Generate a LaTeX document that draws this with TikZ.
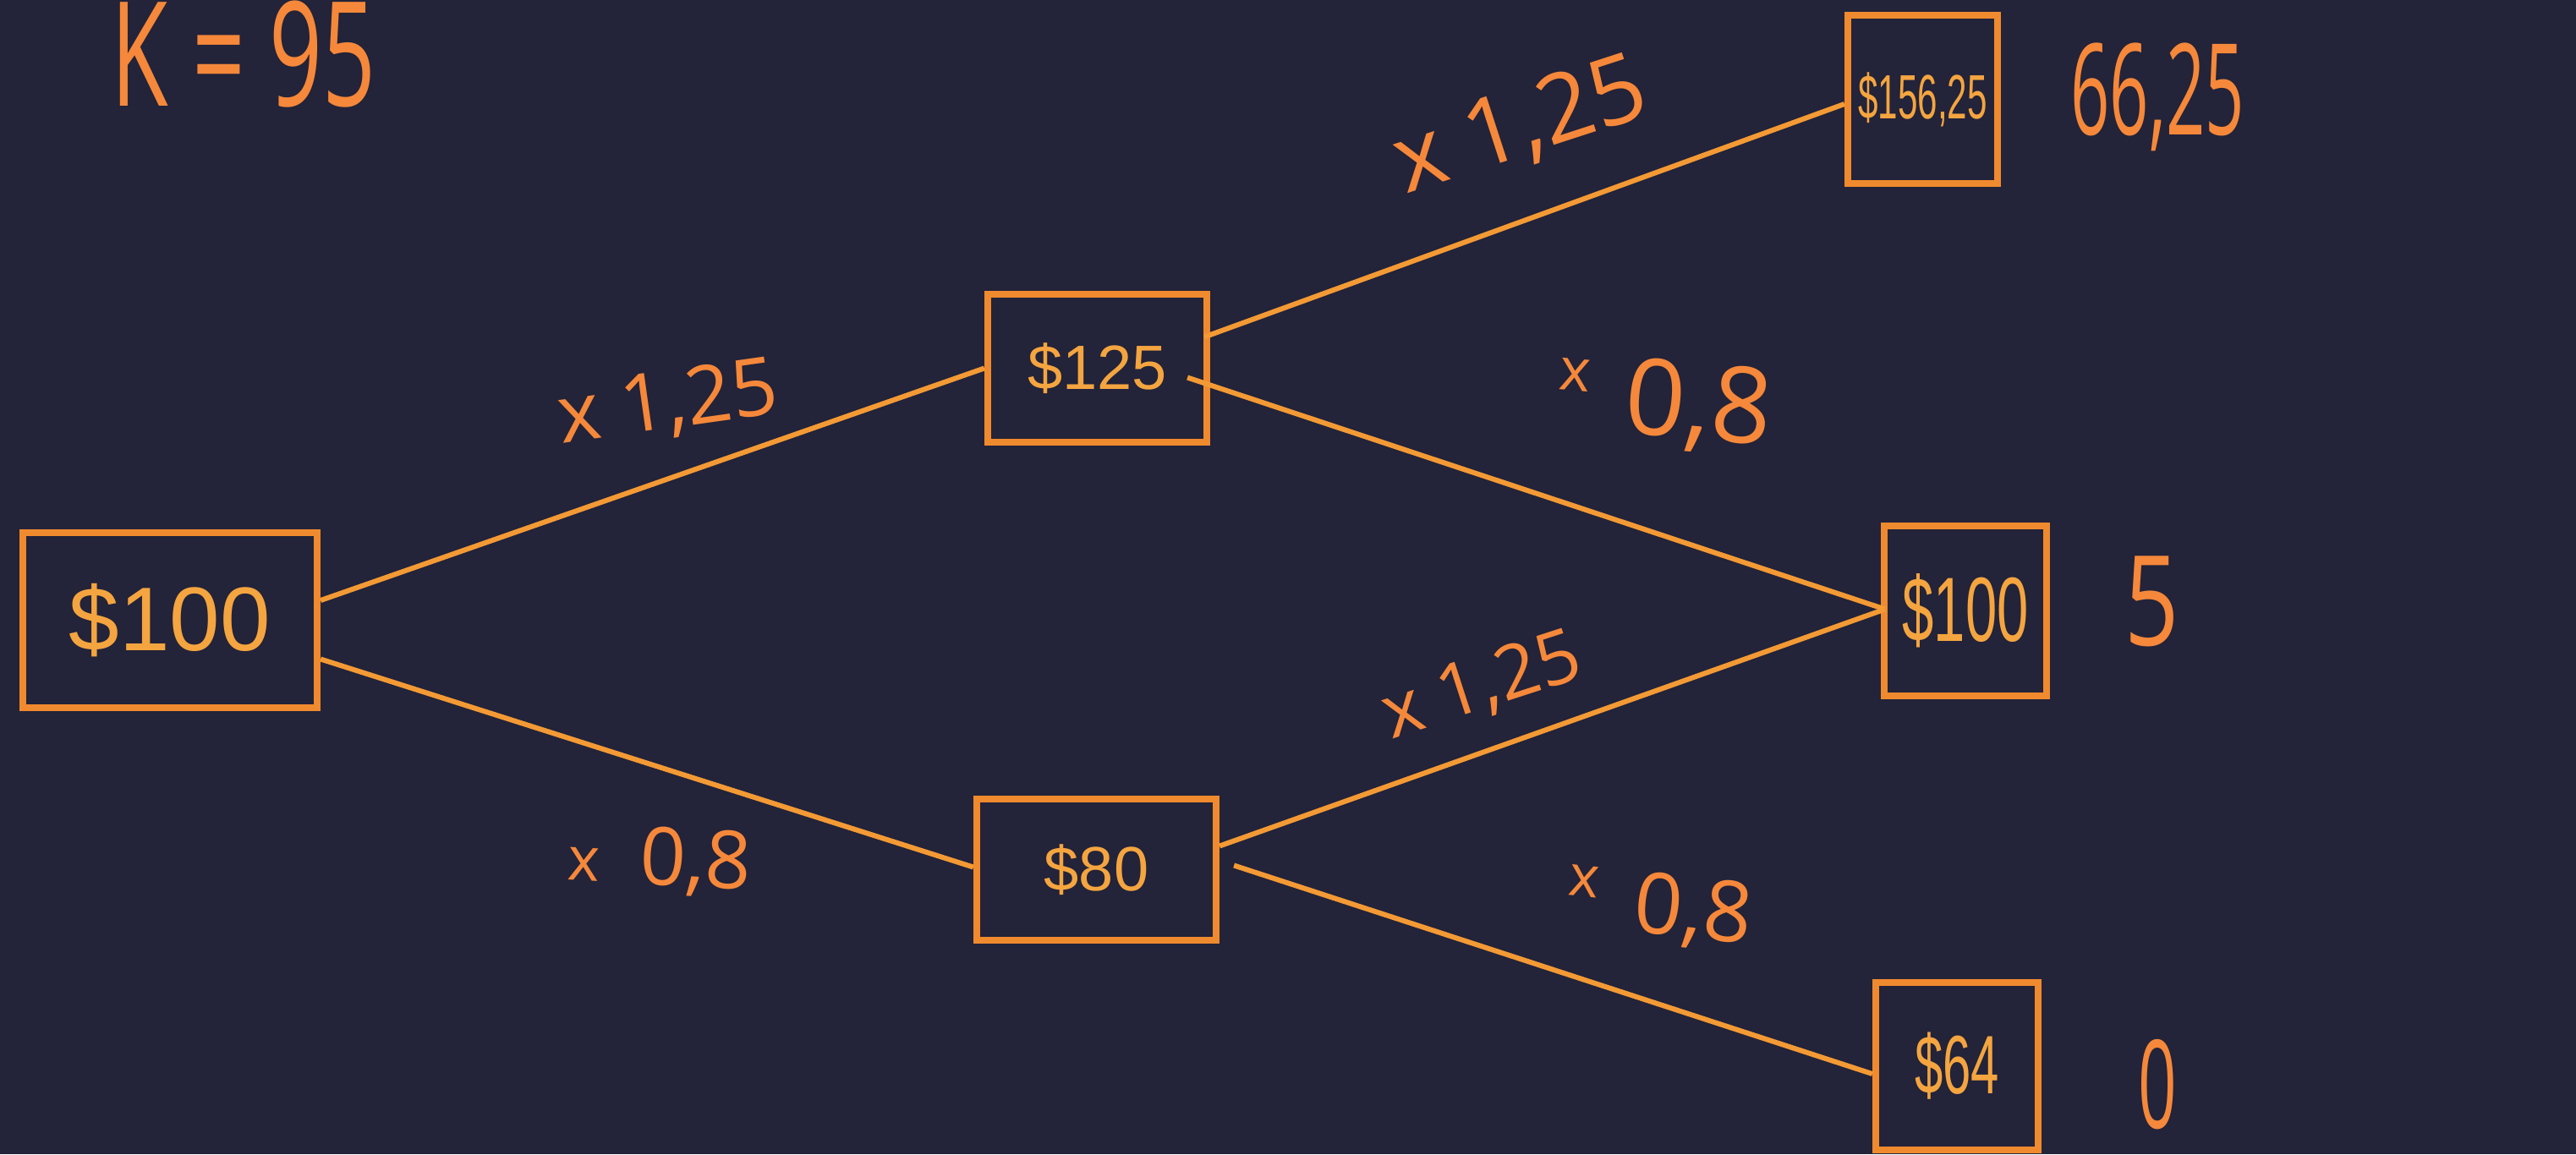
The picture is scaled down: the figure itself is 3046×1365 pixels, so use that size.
\documentclass[tikz,border=0pt]{standalone}
\usepackage{fontspec}
\usepackage{graphicx}
\setmainfont{Liberation Sans}
\newfontfamily\hand{Open Sans}
\usetikzlibrary{calc}

\definecolor{bg}{HTML}{232339}
\definecolor{boxline}{HTML}{F08A2E}
\definecolor{boxtext}{HTML}{F4A540}
\definecolor{edge}{HTML}{F39A35}
\definecolor{ink}{HTML}{F5883A}

% font size given in pixels of the 0.01cm grid
\newcommand{\pxsize}[1]{%
  \pgfmathsetlengthmacro\pxfs{#1*0.2845pt}%
  \pgfmathsetlengthmacro\pxbs{#1*0.34pt}%
  \fontsize{\pxfs}{\pxbs}\selectfont}

\tikzset{
  price/.style={draw=boxline, line width=2.3pt, text=boxtext, inner sep=0pt},
  branch/.style={draw=edge, line width=1.7pt},
  note/.style={text=ink, inner sep=0pt, font=\hand},
}

\begin{document}
\begin{tikzpicture}[x=0.01cm, y=-0.01cm]
  \fill[bg] (0,0) rectangle (3046,1365);
  \useasboundingbox (0,0) rectangle (3046,1365);

  % price nodes of the two-step tree
  \node[price, minimum width=3.48cm, minimum height=2.07cm] (A) at (201,733.5)
    {\pxsize{107}\$100};
  \node[price, minimum width=2.59cm, minimum height=1.75cm] (B) at (1297.5,435.5)
    {\pxsize{74}\$125};
  \node[price, minimum width=2.83cm, minimum height=1.67cm] (C) at (1296.5,1028.5)
    {\pxsize{74}\$80};
  \node[price, minimum width=1.77cm, minimum height=1.99cm] (D) at (2273.5,117.5)
    {\pxsize{74}\scalebox{0.57}[1]{\$156,25}};
  \node[price, minimum width=1.92cm, minimum height=2.01cm] (E) at (2324,722.5)
    {\pxsize{108}\scalebox{0.62}[1]{\$100}};
  \node[price, minimum width=1.92cm, minimum height=1.98cm] (F) at (2314,1261)
    {\pxsize{98}\scalebox{0.61}[1]{\$64}};

  % branches
  \draw[branch] ($(A.east)+(0,-23.5)$) -- (B.west);
  \draw[branch] ($(A.east)+(0,46)$) -- ($(C.west)+(0,-3)$);
  \draw[branch] ($(B.east)+(-7,-37)$) -- ($(D.west)+(0,5.5)$);
  \draw[branch] ($(B.east)+(-27,11)$) -- ($(E.west)+(5,-2)$);
  \draw[branch] ($(C.east)+(0,-28)$) -- ($(E.west)+(5,-2)$);
  \draw[branch] ($(C.east)+(17,-5)$) -- ($(F.west)+(0,9)$);

  % up / down factors
  \node[note, rotate=8]  (f1) at (790,478)   {\pxsize{95}x 1,25};
  \node[note, rotate=-3] (f2) at (780,1018)  {\pxsize{95}{\pxsize{72}x}\hspace{0.5em}0,8};
  \node[note, rotate=18] (f3) at (1798,150)  {\pxsize{112}x 1,25};
  \node[note, rotate=-5] (f4) at (1968,478)  {\pxsize{125}\raisebox{0.35em}{\pxsize{70}x}\hspace{0.35em}0,8};
  \node[note, rotate=18] (f5) at (1752,812)  {\pxsize{88}x 1,25};
  \node[note, rotate=-6] (f6) at (1962,1075) {\pxsize{100}\raisebox{0.35em}{\pxsize{68}x}\hspace{0.45em}0,8};

  % strike and option payoffs
  \node[note] (K) at (288,64)    {\pxsize{172}\scalebox{0.64}[1]{K = 95}};
  \node[note] (p1) at (2551,115) {\pxsize{150}\scalebox{0.54}[1]{66,25}};
  \node[note] (p2) at (2545,711) {\pxsize{148}\scalebox{0.76}[1]{5}};
  \node[note] (p3) at (2551,1283){\pxsize{145}\scalebox{0.55}[1]{0}};
\end{tikzpicture}
\end{document}
